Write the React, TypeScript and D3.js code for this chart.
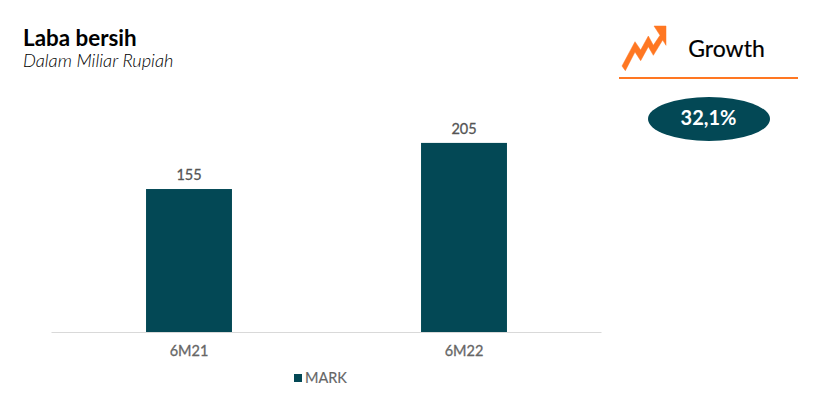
import React from "react";
import * as d3 from "d3";

const categories = ["6M21", "6M22"];
const markValues = [155, 205];
const seriesName = "MARK";
const growthLabel = "32,1%";

const font = "Lato, 'Noto Sans', sans-serif";
const teal = "#034855";
const orange = "#ff7722";

const width = 816;
const height = 405;
const margin = { left: 51.5, right: 601.5, bottom: 332 };

export default function App() {
  const x = d3
    .scaleBand<string>()
    .domain(categories)
    .range([margin.left, margin.right])
    .paddingInner(0.6875)
    .paddingOuter(0.34375);
  const y = d3.scaleLinear().domain([0, 250]).range([margin.bottom, margin.bottom - 230.6]);

  // icon outline, zoomed crop coords / 3 + crop offset
  const arrow = [
    [66, 168], [105, 95], [122, 120], [145, 78], [160, 106], [180, 76], [162, 48],
    [198, 48], [198, 106], [188, 90], [160, 136], [145, 110], [122, 152], [105, 126], [76, 182],
  ]
    .map(([a, b]) => `${600 + a / 3},${10 + b / 3}`)
    .join(" ");

  return (
    <svg
      width={width}
      height={height}
      style={{ position: "absolute", left: 0, top: 0, background: "#fff" }}
      fontFamily={font}
    >
      <text x={23} y={45.5} fontSize={22.4} fontWeight={700} fill="#000">Laba bersih</text>
      <text x={23} y={67} fontSize={18.2} fontStyle="italic" fontWeight={300} fill="#000">Dalam Miliar Rupiah</text>

      {categories.map((c, i) => (
        <g key={c}>
          <rect
            x={x(c)}
            y={y(markValues[i])}
            width={x.bandwidth()}
            height={y(0) - y(markValues[i])}
            fill={teal}
          />
          <text
            x={x(c)! + x.bandwidth() / 2}
            y={y(markValues[i]) - 9}
            textAnchor="middle"
            fontSize={14.5}
            fill="#555"
            stroke="#555"
            strokeWidth={0.3}
          >
            {markValues[i]}
          </text>
          <text
            x={x(c)! + x.bandwidth() / 2}
            y={356}
            textAnchor="middle"
            fontSize={14.5}
            fill="#666"
            stroke="#666"
            strokeWidth={0.3}
          >
            {c}
          </text>
        </g>
      ))}
      <line x1={margin.left} x2={margin.right} y1={332.5} y2={332.5} stroke="#d9d9d9" />

      <rect x={294} y={374} width={8} height={8} fill={teal} />
      <text x={305} y={383} fontSize={14.5} fill="#666" stroke="#666" strokeWidth={0.15}>{seriesName}</text>

      <polygon points={arrow} fill={orange} stroke={orange} strokeWidth={0.5} />
      <text x={726.5} y={57} textAnchor="middle" fontSize={23} fill="#000" stroke="#000" strokeWidth={0.2}>Growth</text>
      <line x1={619} x2={798} y1={78} y2={78} stroke={orange} strokeWidth={2} />
      <ellipse cx={709} cy={119} rx={61} ry={22} fill={teal} />
      <text x={708.5} y={125} textAnchor="middle" fontSize={20} fontWeight={700} fill="#fff">{growthLabel}</text>
    </svg>
  );
}
